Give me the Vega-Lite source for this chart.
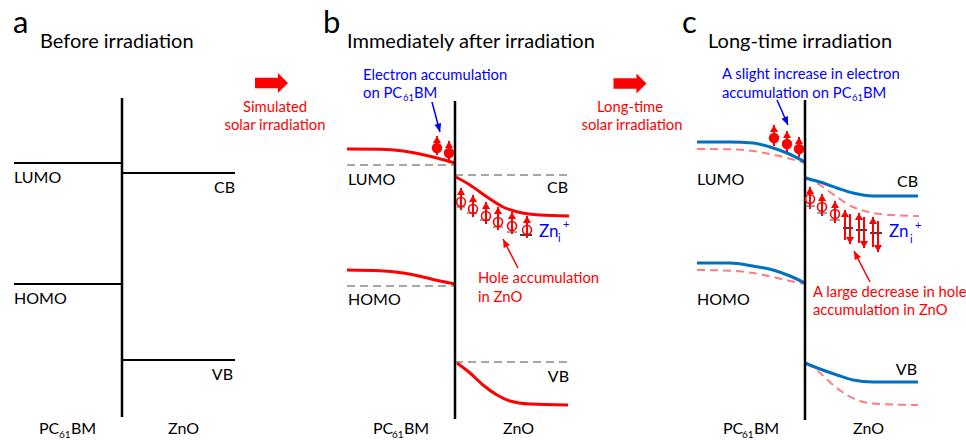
{
  "$schema": "https://vega.github.io/schema/vega-lite/v6.json",
  "width": 966,
  "height": 440,
  "autosize": {"type": "none"},
  "padding": 0,
  "background": "white",
  "config": {"view": {"stroke": null}, "text": {"font": "Lato"}},
  "datasets": {
    "bands": [
      {"id": "a-lumo", "style": "flat", "x": 14, "y": 163}, {"id": "a-lumo", "style": "flat", "x": 122, "y": 163},
      {"id": "a-cb", "style": "flat", "x": 122, "y": 173}, {"id": "a-cb", "style": "flat", "x": 235, "y": 173},
      {"id": "a-homo", "style": "flat", "x": 14, "y": 284}, {"id": "a-homo", "style": "flat", "x": 122, "y": 284},
      {"id": "a-vb", "style": "flat", "x": 122, "y": 360}, {"id": "a-vb", "style": "flat", "x": 235, "y": 360},

      {"id": "b-lumo0", "style": "grey", "x": 347, "y": 165}, {"id": "b-lumo0", "style": "grey", "x": 455, "y": 165},
      {"id": "b-cb0", "style": "grey", "x": 455, "y": 175}, {"id": "b-cb0", "style": "grey", "x": 567, "y": 175},
      {"id": "b-homo0", "style": "grey", "x": 347, "y": 286}, {"id": "b-homo0", "style": "grey", "x": 455, "y": 286},
      {"id": "b-vb0", "style": "grey", "x": 455, "y": 362}, {"id": "b-vb0", "style": "grey", "x": 568, "y": 362},

      {"id": "b-lumo", "style": "red", "x": 347, "y": 149}, {"id": "b-lumo", "style": "red", "x": 380, "y": 149.3},
      {"id": "b-lumo", "style": "red", "x": 403, "y": 151}, {"id": "b-lumo", "style": "red", "x": 420, "y": 154},
      {"id": "b-lumo", "style": "red", "x": 437, "y": 158}, {"id": "b-lumo", "style": "red", "x": 455, "y": 163},
      {"id": "b-cb", "style": "red", "x": 456, "y": 177}, {"id": "b-cb", "style": "red", "x": 470, "y": 185},
      {"id": "b-cb", "style": "red", "x": 487, "y": 197}, {"id": "b-cb", "style": "red", "x": 503, "y": 207},
      {"id": "b-cb", "style": "red", "x": 518, "y": 212}, {"id": "b-cb", "style": "red", "x": 540, "y": 215},
      {"id": "b-cb", "style": "red", "x": 569, "y": 216},
      {"id": "b-homo", "style": "red", "x": 347, "y": 270}, {"id": "b-homo", "style": "red", "x": 380, "y": 270.7},
      {"id": "b-homo", "style": "red", "x": 403, "y": 273}, {"id": "b-homo", "style": "red", "x": 423, "y": 277},
      {"id": "b-homo", "style": "red", "x": 440, "y": 281}, {"id": "b-homo", "style": "red", "x": 455, "y": 284},
      {"id": "b-vb", "style": "red", "x": 457, "y": 363}, {"id": "b-vb", "style": "red", "x": 470, "y": 373},
      {"id": "b-vb", "style": "red", "x": 483, "y": 385}, {"id": "b-vb", "style": "red", "x": 497, "y": 395},
      {"id": "b-vb", "style": "red", "x": 510, "y": 401}, {"id": "b-vb", "style": "red", "x": 530, "y": 404},
      {"id": "b-vb", "style": "red", "x": 568, "y": 405},

      {"id": "c-lumo0", "style": "pink", "x": 697, "y": 149}, {"id": "c-lumo0", "style": "pink", "x": 730, "y": 149.3},
      {"id": "c-lumo0", "style": "pink", "x": 753, "y": 151}, {"id": "c-lumo0", "style": "pink", "x": 770, "y": 154},
      {"id": "c-lumo0", "style": "pink", "x": 787, "y": 158}, {"id": "c-lumo0", "style": "pink", "x": 805, "y": 163},
      {"id": "c-cb0", "style": "pink", "x": 806, "y": 177}, {"id": "c-cb0", "style": "pink", "x": 820, "y": 185},
      {"id": "c-cb0", "style": "pink", "x": 837, "y": 197}, {"id": "c-cb0", "style": "pink", "x": 853, "y": 207},
      {"id": "c-cb0", "style": "pink", "x": 868, "y": 212}, {"id": "c-cb0", "style": "pink", "x": 890, "y": 215},
      {"id": "c-cb0", "style": "pink", "x": 919, "y": 216},
      {"id": "c-homo0", "style": "pink", "x": 697, "y": 270}, {"id": "c-homo0", "style": "pink", "x": 730, "y": 270.7},
      {"id": "c-homo0", "style": "pink", "x": 753, "y": 273}, {"id": "c-homo0", "style": "pink", "x": 773, "y": 277},
      {"id": "c-homo0", "style": "pink", "x": 790, "y": 281}, {"id": "c-homo0", "style": "pink", "x": 805, "y": 284},
      {"id": "c-vb0", "style": "pink", "x": 807, "y": 363}, {"id": "c-vb0", "style": "pink", "x": 820, "y": 373},
      {"id": "c-vb0", "style": "pink", "x": 833, "y": 385}, {"id": "c-vb0", "style": "pink", "x": 847, "y": 395},
      {"id": "c-vb0", "style": "pink", "x": 860, "y": 401}, {"id": "c-vb0", "style": "pink", "x": 880, "y": 404},
      {"id": "c-vb0", "style": "pink", "x": 918, "y": 405},

      {"id": "c-lumo", "style": "blue", "x": 697, "y": 142}, {"id": "c-lumo", "style": "blue", "x": 730, "y": 142},
      {"id": "c-lumo", "style": "blue", "x": 753, "y": 143}, {"id": "c-lumo", "style": "blue", "x": 770, "y": 147},
      {"id": "c-lumo", "style": "blue", "x": 787, "y": 153}, {"id": "c-lumo", "style": "blue", "x": 805, "y": 162},
      {"id": "c-cb", "style": "blue", "x": 805, "y": 178}, {"id": "c-cb", "style": "blue", "x": 820, "y": 182},
      {"id": "c-cb", "style": "blue", "x": 837, "y": 188}, {"id": "c-cb", "style": "blue", "x": 853, "y": 193},
      {"id": "c-cb", "style": "blue", "x": 873, "y": 196}, {"id": "c-cb", "style": "blue", "x": 918, "y": 196},
      {"id": "c-homo", "style": "blue", "x": 697, "y": 263}, {"id": "c-homo", "style": "blue", "x": 730, "y": 263},
      {"id": "c-homo", "style": "blue", "x": 753, "y": 266}, {"id": "c-homo", "style": "blue", "x": 773, "y": 270},
      {"id": "c-homo", "style": "blue", "x": 790, "y": 276}, {"id": "c-homo", "style": "blue", "x": 805, "y": 283},
      {"id": "c-vb", "style": "blue", "x": 805, "y": 363}, {"id": "c-vb", "style": "blue", "x": 820, "y": 369},
      {"id": "c-vb", "style": "blue", "x": 837, "y": 375}, {"id": "c-vb", "style": "blue", "x": 853, "y": 380},
      {"id": "c-vb", "style": "blue", "x": 873, "y": 382}, {"id": "c-vb", "style": "blue", "x": 918, "y": 382}
    ],
    "interfaces": [
      {"x": 122, "y": 98, "y2": 417},
      {"x": 455, "y": 101, "y2": 419},
      {"x": 805, "y": 100, "y2": 420}
    ],
    "traps": [
      {"tone": "grey", "x": 457, "x2": 465, "y": 207}, {"tone": "grey", "x": 467, "x2": 477, "y": 213},
      {"tone": "grey", "x": 480, "x2": 490, "y": 220}, {"tone": "grey", "x": 493, "x2": 503, "y": 227},
      {"tone": "grey", "x": 507, "x2": 517, "y": 232}, {"tone": "black", "x": 520, "x2": 532, "y": 235},
      {"tone": "grey", "x": 806, "x2": 815, "y": 206}, {"tone": "grey", "x": 817, "x2": 827, "y": 213},
      {"tone": "grey", "x": 830, "x2": 840, "y": 220},
      {"tone": "black", "x": 843, "x2": 853, "y": 228}, {"tone": "black", "x": 856, "x2": 867, "y": 230},
      {"tone": "black", "x": 870, "x2": 882, "y": 233}
    ],
    "spins": [
      {"x": 437, "from": 155, "to": 136, "dir": "up"}, {"x": 449, "from": 160, "to": 141, "dir": "up"},
      {"x": 461, "from": 210, "to": 188, "dir": "up"}, {"x": 473, "from": 217, "to": 195, "dir": "up"},
      {"x": 486, "from": 224, "to": 202, "dir": "up"}, {"x": 498, "from": 230, "to": 207, "dir": "up"},
      {"x": 512, "from": 234, "to": 212, "dir": "up"}, {"x": 527, "from": 238, "to": 216, "dir": "up"},
      {"x": 774, "from": 146, "to": 125, "dir": "up"}, {"x": 787, "from": 152, "to": 131, "dir": "up"},
      {"x": 799, "from": 157, "to": 137, "dir": "up"},
      {"x": 810, "from": 209, "to": 187, "dir": "up"}, {"x": 822, "from": 216, "to": 194, "dir": "up"},
      {"x": 835, "from": 223, "to": 201, "dir": "up"},
      {"x": 845, "from": 240, "to": 210, "dir": "up"}, {"x": 850, "from": 214, "to": 244, "dir": "down"},
      {"x": 859, "from": 243, "to": 213, "dir": "up"}, {"x": 864, "from": 217, "to": 248, "dir": "down"},
      {"x": 873, "from": 247, "to": 217, "dir": "up"}, {"x": 878, "from": 221, "to": 252, "dir": "down"}
    ],
    "electrons": [
      {"x": 437, "y": 148}, {"x": 449, "y": 153},
      {"x": 774, "y": 138}, {"x": 787, "y": 144}, {"x": 799, "y": 149}
    ],
    "holes": [
      {"x": 461, "y": 202}, {"x": 473, "y": 209}, {"x": 486, "y": 216},
      {"x": 498, "y": 222}, {"x": 512, "y": 226}, {"x": 527, "y": 230},
      {"x": 810, "y": 199}, {"x": 822, "y": 207}, {"x": 835, "y": 214}
    ],
    "pointers": [
      {"tone": "blue", "x": 432, "y": 102, "x2": 440, "y2": 132, "angle": 165},
      {"tone": "red", "x": 518, "y": 268, "x2": 503, "y2": 239, "angle": 333},
      {"tone": "blue", "x": 777, "y": 100, "x2": 788, "y2": 125, "angle": 157},
      {"tone": "red", "x": 870, "y": 282, "x2": 854, "y2": 251, "angle": 333}
    ],
    "steps": [
      {"x": 271.5, "y": 83},
      {"x": 630, "y": 83.5}
    ],
    "labels": [
      {"kind": "letter", "text": "a", "x": 13, "y": 33},
      {"kind": "letter", "text": "b", "x": 323, "y": 33},
      {"kind": "letter", "text": "c", "x": 682, "y": 33},
      {"kind": "title", "text": "Before irradiation", "x": 40, "y": 48},
      {"kind": "title", "text": "Immediately after irradiation", "x": 347, "y": 48},
      {"kind": "title", "text": "Long-time irradiation", "x": 708, "y": 48},
      {"kind": "label", "text": "LUMO", "x": 14, "y": 183},
      {"kind": "label", "text": "HOMO", "x": 14, "y": 304},
      {"kind": "label", "text": "LUMO", "x": 348, "y": 185},
      {"kind": "label", "text": "HOMO", "x": 348, "y": 305},
      {"kind": "label", "text": "LUMO", "x": 697, "y": 185},
      {"kind": "label", "text": "HOMO", "x": 697, "y": 305},
      {"kind": "label", "text": "PC", "x": 39, "y": 434},
      {"kind": "label", "text": "BM", "x": 71, "y": 434},
      {"kind": "label", "text": "ZnO", "x": 168, "y": 434},
      {"kind": "label", "text": "PC", "x": 373, "y": 434},
      {"kind": "label", "text": "BM", "x": 404, "y": 434},
      {"kind": "label", "text": "ZnO", "x": 503, "y": 434},
      {"kind": "label", "text": "PC", "x": 723, "y": 434},
      {"kind": "label", "text": "BM", "x": 754, "y": 434},
      {"kind": "label", "text": "ZnO", "x": 853, "y": 434},
      {"kind": "labelR", "text": "CB", "x": 235, "y": 193},
      {"kind": "labelR", "text": "VB", "x": 233, "y": 380},
      {"kind": "labelR", "text": "CB", "x": 568, "y": 193},
      {"kind": "labelR", "text": "VB", "x": 569, "y": 382},
      {"kind": "labelR", "text": "CB", "x": 918, "y": 187},
      {"kind": "labelR", "text": "VB", "x": 917, "y": 375},
      {"kind": "sub", "text": "61", "x": 59, "y": 438},
      {"kind": "sub", "text": "61", "x": 392, "y": 438},
      {"kind": "sub", "text": "61", "x": 742, "y": 438},
      {"kind": "redC", "text": "Simulated", "x": 275, "y": 112},
      {"kind": "redC", "text": "solar irradiation", "x": 275, "y": 130},
      {"kind": "redC", "text": "Long-time", "x": 630, "y": 112},
      {"kind": "redC", "text": "solar irradiation", "x": 632, "y": 130},
      {"kind": "red", "text": "Hole accumulation", "x": 478, "y": 283},
      {"kind": "red", "text": "in ZnO", "x": 478, "y": 302},
      {"kind": "red", "text": "A large decrease in hole", "x": 813, "y": 297},
      {"kind": "red", "text": "accumulation in ZnO", "x": 813, "y": 315},
      {"kind": "blue", "text": "Electron accumulation", "x": 363, "y": 80},
      {"kind": "blue", "text": "on PC", "x": 363, "y": 98},
      {"kind": "blue", "text": "BM", "x": 414, "y": 98},
      {"kind": "blue", "text": "A slight increase in electron", "x": 722, "y": 79},
      {"kind": "blue", "text": "accumulation on PC", "x": 722, "y": 98},
      {"kind": "blue", "text": "BM", "x": 863, "y": 98},
      {"kind": "blueSub", "text": "61", "x": 403, "y": 101},
      {"kind": "blueSub", "text": "61", "x": 852, "y": 101},
      {"kind": "zn", "text": "Zn", "x": 539, "y": 237},
      {"kind": "zn", "text": "Zn", "x": 889, "y": 237},
      {"kind": "znSub", "text": "i", "x": 558, "y": 242},
      {"kind": "znSub", "text": "+", "x": 563, "y": 228},
      {"kind": "znSub", "text": "i", "x": 910, "y": 243},
      {"kind": "znSub", "text": "+", "x": 915, "y": 229}
    ]
  },
  "layer": [
    {
      "data": {"name": "bands"},
      "transform": [{"filter": "datum.style === 'flat'"}],
      "mark": {"type": "line", "color": "#000000", "strokeWidth": 2},
      "encoding": {
        "x": {"field": "x", "type": "quantitative", "scale": {"domain": [0, 966], "nice": false, "zero": false}, "axis": null},
        "y": {"field": "y", "type": "quantitative", "scale": {"domain": [0, 440], "reverse": true, "nice": false, "zero": false}, "axis": null},
        "detail": {"field": "id"}
      }
    },
    {
      "data": {"name": "bands"},
      "transform": [{"filter": "datum.style === 'grey' || datum.style === 'pink'"}],
      "mark": {"type": "line", "strokeWidth": 2, "strokeDash": [8, 5], "interpolate": "monotone"},
      "encoding": {
        "x": {"field": "x", "type": "quantitative", "scale": {"domain": [0, 966], "nice": false, "zero": false}, "axis": null},
        "y": {"field": "y", "type": "quantitative", "scale": {"domain": [0, 440], "reverse": true, "nice": false, "zero": false}, "axis": null},
        "detail": {"field": "id"},
        "color": {"field": "style", "type": "nominal", "scale": {"domain": ["grey", "pink", "red", "blue"], "range": ["#A6A6A6", "#FF7C80", "#FF0000", "#0070C0"]}, "legend": null}
      }
    },
    {
      "data": {"name": "bands"},
      "transform": [{"filter": "datum.style === 'red' || datum.style === 'blue'"}],
      "mark": {"type": "line", "strokeWidth": 3, "interpolate": "monotone"},
      "encoding": {
        "x": {"field": "x", "type": "quantitative", "scale": {"domain": [0, 966], "nice": false, "zero": false}, "axis": null},
        "y": {"field": "y", "type": "quantitative", "scale": {"domain": [0, 440], "reverse": true, "nice": false, "zero": false}, "axis": null},
        "detail": {"field": "id"},
        "color": {"field": "style", "type": "nominal", "scale": {"domain": ["grey", "pink", "red", "blue"], "range": ["#A6A6A6", "#FF7C80", "#FF0000", "#0070C0"]}, "legend": null}
      }
    },
    {
      "data": {"name": "interfaces"},
      "mark": {"type": "rule", "color": "#000000", "strokeWidth": 2.5},
      "encoding": {
        "x": {"field": "x", "type": "quantitative", "scale": {"domain": [0, 966], "nice": false, "zero": false}, "axis": null},
        "y": {"field": "y", "type": "quantitative", "scale": {"domain": [0, 440], "reverse": true, "nice": false, "zero": false}, "axis": null},
        "y2": {"field": "y2"}
      }
    },
    {
      "data": {"name": "traps"},
      "transform": [{"filter": "datum.tone === 'grey'"}],
      "mark": {"type": "rule", "color": "#7F7F7F", "strokeWidth": 1.5},
      "encoding": {
        "x": {"field": "x", "type": "quantitative", "scale": {"domain": [0, 966], "nice": false, "zero": false}, "axis": null},
        "x2": {"field": "x2"},
        "y": {"field": "y", "type": "quantitative", "scale": {"domain": [0, 440], "reverse": true, "nice": false, "zero": false}, "axis": null}
      }
    },
    {
      "data": {"name": "traps"},
      "transform": [{"filter": "datum.tone === 'black'"}],
      "mark": {"type": "rule", "color": "#000000", "strokeWidth": 1.5},
      "encoding": {
        "x": {"field": "x", "type": "quantitative", "scale": {"domain": [0, 966], "nice": false, "zero": false}, "axis": null},
        "x2": {"field": "x2"},
        "y": {"field": "y", "type": "quantitative", "scale": {"domain": [0, 440], "reverse": true, "nice": false, "zero": false}, "axis": null}
      }
    },
    {
      "data": {"name": "spins"},
      "mark": {"type": "rule", "color": "#FF0000", "strokeWidth": 2},
      "encoding": {
        "x": {"field": "x", "type": "quantitative", "scale": {"domain": [0, 966], "nice": false, "zero": false}, "axis": null},
        "y": {"field": "from", "type": "quantitative", "scale": {"domain": [0, 440], "reverse": true, "nice": false, "zero": false}, "axis": null},
        "y2": {"field": "to"}
      }
    },
    {
      "data": {"name": "spins"},
      "mark": {"type": "point", "filled": true, "color": "#FF0000", "opacity": 1, "size": 64, "strokeWidth": 0},
      "encoding": {
        "x": {"field": "x", "type": "quantitative", "scale": {"domain": [0, 966], "nice": false, "zero": false}, "axis": null},
        "y": {"field": "to", "type": "quantitative", "scale": {"domain": [0, 440], "reverse": true, "nice": false, "zero": false}, "axis": null},
        "shape": {"field": "dir", "type": "nominal", "scale": {"domain": ["up", "down"], "range": ["M0,0L-1,1.75L1,1.75Z", "M0,0L-1,-1.75L1,-1.75Z"]}, "legend": null}
      }
    },
    {
      "data": {"name": "electrons"},
      "mark": {"type": "point", "shape": "circle", "filled": true, "color": "#FF0000", "opacity": 1, "size": 110, "strokeWidth": 0},
      "encoding": {
        "x": {"field": "x", "type": "quantitative", "scale": {"domain": [0, 966], "nice": false, "zero": false}, "axis": null},
        "y": {"field": "y", "type": "quantitative", "scale": {"domain": [0, 440], "reverse": true, "nice": false, "zero": false}, "axis": null}
      }
    },
    {
      "data": {"name": "holes"},
      "mark": {"type": "point", "shape": "circle", "filled": false, "color": "#FF0000", "opacity": 1, "size": 80, "strokeWidth": 1.6},
      "encoding": {
        "x": {"field": "x", "type": "quantitative", "scale": {"domain": [0, 966], "nice": false, "zero": false}, "axis": null},
        "y": {"field": "y", "type": "quantitative", "scale": {"domain": [0, 440], "reverse": true, "nice": false, "zero": false}, "axis": null}
      }
    },
    {
      "data": {"name": "pointers"},
      "transform": [{"filter": "datum.tone === 'blue'"}],
      "mark": {"type": "rule", "color": "#0000FF", "strokeWidth": 1.5},
      "encoding": {
        "x": {"field": "x", "type": "quantitative", "scale": {"domain": [0, 966], "nice": false, "zero": false}, "axis": null},
        "y": {"field": "y", "type": "quantitative", "scale": {"domain": [0, 440], "reverse": true, "nice": false, "zero": false}, "axis": null},
        "x2": {"field": "x2"},
        "y2": {"field": "y2"}
      }
    },
    {
      "data": {"name": "pointers"},
      "transform": [{"filter": "datum.tone === 'red'"}],
      "mark": {"type": "rule", "color": "#FF0000", "strokeWidth": 1.5},
      "encoding": {
        "x": {"field": "x", "type": "quantitative", "scale": {"domain": [0, 966], "nice": false, "zero": false}, "axis": null},
        "y": {"field": "y", "type": "quantitative", "scale": {"domain": [0, 440], "reverse": true, "nice": false, "zero": false}, "axis": null},
        "x2": {"field": "x2"},
        "y2": {"field": "y2"}
      }
    },
    {
      "data": {"name": "pointers"},
      "transform": [{"filter": "datum.tone === 'blue'"}],
      "mark": {"type": "point", "shape": "M0,0L-1,2.4L1,2.4Z", "filled": true, "color": "#0000FF", "opacity": 1, "size": 49, "strokeWidth": 0},
      "encoding": {
        "x": {"field": "x2", "type": "quantitative", "scale": {"domain": [0, 966], "nice": false, "zero": false}, "axis": null},
        "y": {"field": "y2", "type": "quantitative", "scale": {"domain": [0, 440], "reverse": true, "nice": false, "zero": false}, "axis": null},
        "angle": {"field": "angle", "type": "quantitative", "scale": null}
      }
    },
    {
      "data": {"name": "pointers"},
      "transform": [{"filter": "datum.tone === 'red'"}],
      "mark": {"type": "point", "shape": "M0,0L-1,2.4L1,2.4Z", "filled": true, "color": "#FF0000", "opacity": 1, "size": 49, "strokeWidth": 0},
      "encoding": {
        "x": {"field": "x2", "type": "quantitative", "scale": {"domain": [0, 966], "nice": false, "zero": false}, "axis": null},
        "y": {"field": "y2", "type": "quantitative", "scale": {"domain": [0, 440], "reverse": true, "nice": false, "zero": false}, "axis": null},
        "angle": {"field": "angle", "type": "quantitative", "scale": null}
      }
    },
    {
      "data": {"name": "steps"},
      "mark": {"type": "point", "shape": "M-1,-0.32L0.39,-0.32L0.39,-0.61L1,0L0.39,0.61L0.39,0.32L-1,0.32Z", "filled": true, "color": "#FF0000", "opacity": 1, "size": 1089, "strokeWidth": 0},
      "encoding": {
        "x": {"field": "x", "type": "quantitative", "scale": {"domain": [0, 966], "nice": false, "zero": false}, "axis": null},
        "y": {"field": "y", "type": "quantitative", "scale": {"domain": [0, 440], "reverse": true, "nice": false, "zero": false}, "axis": null}
      }
    },
    {
      "data": {"name": "labels"},
      "transform": [{"filter": "datum.kind === 'letter'"}],
      "mark": {"type": "text", "align": "left", "baseline": "alphabetic", "fontSize": 31, "color": "#000000"},
      "encoding": {
        "x": {"field": "x", "type": "quantitative", "scale": {"domain": [0, 966], "nice": false, "zero": false}, "axis": null},
        "y": {"field": "y", "type": "quantitative", "scale": {"domain": [0, 440], "reverse": true, "nice": false, "zero": false}, "axis": null},
        "text": {"field": "text"}
      }
    },
    {
      "data": {"name": "labels"},
      "transform": [{"filter": "datum.kind === 'title'"}],
      "mark": {"type": "text", "align": "left", "baseline": "alphabetic", "fontSize": 20, "color": "#000000"},
      "encoding": {
        "x": {"field": "x", "type": "quantitative", "scale": {"domain": [0, 966], "nice": false, "zero": false}, "axis": null},
        "y": {"field": "y", "type": "quantitative", "scale": {"domain": [0, 440], "reverse": true, "nice": false, "zero": false}, "axis": null},
        "text": {"field": "text"}
      }
    },
    {
      "data": {"name": "labels"},
      "transform": [{"filter": "datum.kind === 'label'"}],
      "mark": {"type": "text", "align": "left", "baseline": "alphabetic", "fontSize": 16, "color": "#000000"},
      "encoding": {
        "x": {"field": "x", "type": "quantitative", "scale": {"domain": [0, 966], "nice": false, "zero": false}, "axis": null},
        "y": {"field": "y", "type": "quantitative", "scale": {"domain": [0, 440], "reverse": true, "nice": false, "zero": false}, "axis": null},
        "text": {"field": "text"}
      }
    },
    {
      "data": {"name": "labels"},
      "transform": [{"filter": "datum.kind === 'labelR'"}],
      "mark": {"type": "text", "align": "right", "baseline": "alphabetic", "fontSize": 16, "color": "#000000"},
      "encoding": {
        "x": {"field": "x", "type": "quantitative", "scale": {"domain": [0, 966], "nice": false, "zero": false}, "axis": null},
        "y": {"field": "y", "type": "quantitative", "scale": {"domain": [0, 440], "reverse": true, "nice": false, "zero": false}, "axis": null},
        "text": {"field": "text"}
      }
    },
    {
      "data": {"name": "labels"},
      "transform": [{"filter": "datum.kind === 'sub'"}],
      "mark": {"type": "text", "align": "left", "baseline": "alphabetic", "fontSize": 10, "color": "#000000"},
      "encoding": {
        "x": {"field": "x", "type": "quantitative", "scale": {"domain": [0, 966], "nice": false, "zero": false}, "axis": null},
        "y": {"field": "y", "type": "quantitative", "scale": {"domain": [0, 440], "reverse": true, "nice": false, "zero": false}, "axis": null},
        "text": {"field": "text"}
      }
    },
    {
      "data": {"name": "labels"},
      "transform": [{"filter": "datum.kind === 'redC'"}],
      "mark": {"type": "text", "align": "center", "baseline": "alphabetic", "fontSize": 14.8, "color": "#FF0000"},
      "encoding": {
        "x": {"field": "x", "type": "quantitative", "scale": {"domain": [0, 966], "nice": false, "zero": false}, "axis": null},
        "y": {"field": "y", "type": "quantitative", "scale": {"domain": [0, 440], "reverse": true, "nice": false, "zero": false}, "axis": null},
        "text": {"field": "text"}
      }
    },
    {
      "data": {"name": "labels"},
      "transform": [{"filter": "datum.kind === 'red'"}],
      "mark": {"type": "text", "align": "left", "baseline": "alphabetic", "fontSize": 14.8, "color": "#FF0000"},
      "encoding": {
        "x": {"field": "x", "type": "quantitative", "scale": {"domain": [0, 966], "nice": false, "zero": false}, "axis": null},
        "y": {"field": "y", "type": "quantitative", "scale": {"domain": [0, 440], "reverse": true, "nice": false, "zero": false}, "axis": null},
        "text": {"field": "text"}
      }
    },
    {
      "data": {"name": "labels"},
      "transform": [{"filter": "datum.kind === 'blue'"}],
      "mark": {"type": "text", "align": "left", "baseline": "alphabetic", "fontSize": 14.8, "color": "#0000FF"},
      "encoding": {
        "x": {"field": "x", "type": "quantitative", "scale": {"domain": [0, 966], "nice": false, "zero": false}, "axis": null},
        "y": {"field": "y", "type": "quantitative", "scale": {"domain": [0, 440], "reverse": true, "nice": false, "zero": false}, "axis": null},
        "text": {"field": "text"}
      }
    },
    {
      "data": {"name": "labels"},
      "transform": [{"filter": "datum.kind === 'blueSub'"}],
      "mark": {"type": "text", "align": "left", "baseline": "alphabetic", "fontSize": 9.5, "color": "#0000FF"},
      "encoding": {
        "x": {"field": "x", "type": "quantitative", "scale": {"domain": [0, 966], "nice": false, "zero": false}, "axis": null},
        "y": {"field": "y", "type": "quantitative", "scale": {"domain": [0, 440], "reverse": true, "nice": false, "zero": false}, "axis": null},
        "text": {"field": "text"}
      }
    },
    {
      "data": {"name": "labels"},
      "transform": [{"filter": "datum.kind === 'zn'"}],
      "mark": {"type": "text", "align": "left", "baseline": "alphabetic", "fontSize": 17, "color": "#0000FF"},
      "encoding": {
        "x": {"field": "x", "type": "quantitative", "scale": {"domain": [0, 966], "nice": false, "zero": false}, "axis": null},
        "y": {"field": "y", "type": "quantitative", "scale": {"domain": [0, 440], "reverse": true, "nice": false, "zero": false}, "axis": null},
        "text": {"field": "text"}
      }
    },
    {
      "data": {"name": "labels"},
      "transform": [{"filter": "datum.kind === 'znSub'"}],
      "mark": {"type": "text", "align": "left", "baseline": "alphabetic", "fontSize": 11, "color": "#0000FF"},
      "encoding": {
        "x": {"field": "x", "type": "quantitative", "scale": {"domain": [0, 966], "nice": false, "zero": false}, "axis": null},
        "y": {"field": "y", "type": "quantitative", "scale": {"domain": [0, 440], "reverse": true, "nice": false, "zero": false}, "axis": null},
        "text": {"field": "text"}
      }
    }
  ]
}
